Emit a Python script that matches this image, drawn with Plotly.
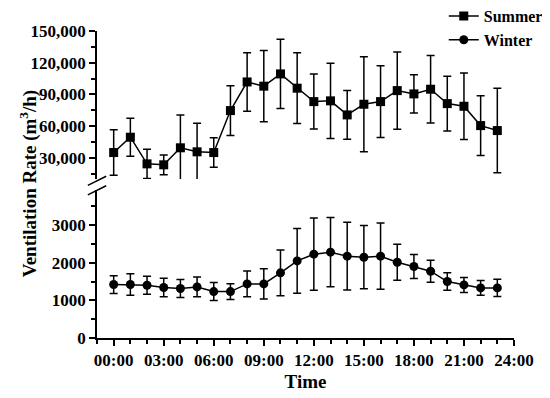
import plotly.graph_objects as go

hours = list(range(24))
summer = [35000, 49500, 24300, 23400, 39500, 35700, 35000, 74700, 101800, 97800, 109400, 95900,
          83200, 83900, 70600, 80700, 83200, 93600, 90500, 94900, 81300, 78800, 60500, 55800]
summer_err = [21500, 18000, 13800, 9300, 31000, 27000, 14000, 23500, 27700, 33700, 32800, 33500,
              26000, 35500, 23000, 45000, 34000, 36600, 18000, 32000, 26000, 31500, 28300, 40000]
winter = [1420, 1420, 1400, 1340, 1315, 1357, 1233, 1233, 1437, 1437, 1730, 2048,
          2226, 2280, 2173, 2146, 2173, 2013, 1898, 1774, 1500, 1410, 1330, 1330]
winter_err = [235, 285, 240, 245, 240, 260, 240, 210, 340, 400, 610, 860,
              960, 920, 900, 840, 880, 480, 320, 290, 230, 200, 195, 230]
tick_vals = [0, 3, 6, 9, 12, 15, 18, 21, 24]
tick_text = ["00:00", "03:00", "06:00", "09:00", "12:00", "15:00", "18:00", "21:00", "24:00"]

FONT = "Liberation Serif"
tf = dict(family=FONT, size=17, color="black", weight="bold")

fig = go.Figure()
fig.add_trace(go.Scatter(
    x=hours, y=summer, mode="lines+markers", name="Summer",
    line=dict(color="black", width=1.5),
    marker=dict(symbol="square", size=9, color="black"),
    error_y=dict(type="data", array=summer_err, color="black", thickness=1.5, width=4),
    xaxis="x2", yaxis="y2"))
fig.add_trace(go.Scatter(
    x=hours, y=winter, mode="lines+markers", name="Winter",
    line=dict(color="black", width=1.5),
    marker=dict(symbol="circle", size=9, color="black"),
    error_y=dict(type="data", array=winter_err, color="black", thickness=1.5, width=4),
    xaxis="x", yaxis="y"))

axis_common = dict(showgrid=False, zeroline=False, linecolor="black", linewidth=1.5,
                   ticks="outside", tickcolor="black", tickwidth=1.5)

fig.update_layout(
    width=542, height=390,
    margin=dict(l=89, r=36, t=23, b=60, autoexpand=False),
    paper_bgcolor="white", plot_bgcolor="white",
    font=dict(family=FONT, color="black"),
    xaxis=dict(domain=[0, 1], range=[-1, 24], tickvals=tick_vals, ticktext=tick_text,
               ticklen=6, tickfont=tf, showline=True, anchor="y",
               minor=dict(dtick=1, tick0=0, ticklen=4, ticks="outside", tickcolor="black", tickwidth=1.5),
               title=dict(text="Time", font=dict(family=FONT, size=19, weight="bold"), standoff=6),
               **axis_common),
    xaxis2=dict(domain=[0, 1], range=[-1, 24], matches="x", showticklabels=False, showline=False,
                ticks="", anchor="y2", showgrid=False, zeroline=False),
    yaxis=dict(domain=[0, 0.482], range=[0, 3930], dtick=1000, tick0=0, ticklen=6, tickfont=tf,
               showline=True, anchor="x",
               minor=dict(dtick=500, tick0=0, ticklen=4, ticks="outside", tickcolor="black", tickwidth=1.5),
               **axis_common),
    yaxis2=dict(domain=[0.518, 1], range=[10000, 150000], tickvals=[30000, 60000, 90000, 120000, 150000],
                tickformat=",d", ticklen=6, tickfont=tf, showline=True, anchor="x2",
                minor=dict(tickvals=[15000, 45000, 75000, 105000, 135000], ticklen=4, ticks="outside",
                           tickcolor="black", tickwidth=1.5),
                **axis_common),
    legend=dict(xref="container", yref="paper", x=0.804, xanchor="left", y=1.104, yanchor="top",
                bgcolor="rgba(0,0,0,0)", font=dict(family=FONT, size=16, weight="bold"),
                tracegroupgap=0, itemwidth=30),
    showlegend=True,
)

fig.add_annotation(text="Ventilation Rate (m<sup>3</sup>/h)", xref="paper", yref="paper",
                   x=-0.197, y=0.505, textangle=-90, showarrow=False,
                   font=dict(family=FONT, size=19, weight="bold"))

# axis-break marks
for y0 in [0.497, 0.466]:
    fig.add_shape(type="line", xref="paper", yref="paper", x0=-0.022, x1=0.022,
                  y0=y0, y1=y0 + 0.03, line=dict(color="black", width=1.5))

fig.write_html("out.html")
